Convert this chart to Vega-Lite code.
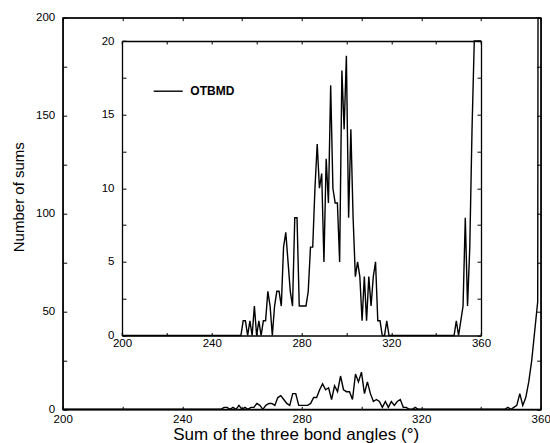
{
  "$schema": "https://vega.github.io/schema/vega-lite/v6.json",
  "width": 478,
  "height": 391.6,
  "autosize": {"type": "none"},
  "padding": {"left": 62.7, "top": 17.7, "right": 9.3, "bottom": 33.7},
  "background": "white",
  "config": {
    "view": {"stroke": "black", "strokeWidth": 1.3},
    "axis": {
      "grid": false,
      "domainColor": "black",
      "domainWidth": 1.3,
      "tickColor": "black",
      "tickWidth": 1,
      "labelColor": "black",
      "labelFont": "Liberation Sans",
      "labelFontSize": 11.5,
      "labelFlush": false,
      "labelOverlap": false,
      "titleColor": "black",
      "titleFont": "Liberation Sans",
      "titleFontWeight": "normal"
    }
  },
  "data": {
    "values": [
      {"angle": 200, "count": 0}, {"angle": 201, "count": 0}, {"angle": 202, "count": 0}, {"angle": 203, "count": 0}, {"angle": 204, "count": 0},
      {"angle": 205, "count": 0}, {"angle": 206, "count": 0}, {"angle": 207, "count": 0}, {"angle": 208, "count": 0}, {"angle": 209, "count": 0},
      {"angle": 210, "count": 0}, {"angle": 211, "count": 0}, {"angle": 212, "count": 0}, {"angle": 213, "count": 0}, {"angle": 214, "count": 0},
      {"angle": 215, "count": 0}, {"angle": 216, "count": 0}, {"angle": 217, "count": 0}, {"angle": 218, "count": 0}, {"angle": 219, "count": 0},
      {"angle": 220, "count": 0}, {"angle": 221, "count": 0}, {"angle": 222, "count": 0}, {"angle": 223, "count": 0}, {"angle": 224, "count": 0},
      {"angle": 225, "count": 0}, {"angle": 226, "count": 0}, {"angle": 227, "count": 0}, {"angle": 228, "count": 0}, {"angle": 229, "count": 0},
      {"angle": 230, "count": 0}, {"angle": 231, "count": 0}, {"angle": 232, "count": 0}, {"angle": 233, "count": 0}, {"angle": 234, "count": 0},
      {"angle": 235, "count": 0}, {"angle": 236, "count": 0}, {"angle": 237, "count": 0}, {"angle": 238, "count": 0}, {"angle": 239, "count": 0},
      {"angle": 240, "count": 0}, {"angle": 241, "count": 0}, {"angle": 242, "count": 0}, {"angle": 243, "count": 0}, {"angle": 244, "count": 0},
      {"angle": 245, "count": 0}, {"angle": 246, "count": 0}, {"angle": 247, "count": 0}, {"angle": 248, "count": 0}, {"angle": 249, "count": 0},
      {"angle": 250, "count": 0}, {"angle": 251, "count": 0}, {"angle": 252, "count": 0}, {"angle": 253, "count": 0}, {"angle": 254, "count": 1},
      {"angle": 255, "count": 1}, {"angle": 256, "count": 0}, {"angle": 257, "count": 1}, {"angle": 258, "count": 0}, {"angle": 259, "count": 2},
      {"angle": 260, "count": 0}, {"angle": 261, "count": 1}, {"angle": 262, "count": 0}, {"angle": 263, "count": 1}, {"angle": 264, "count": 1},
      {"angle": 265, "count": 3}, {"angle": 266, "count": 2}, {"angle": 267, "count": 0}, {"angle": 268, "count": 2}, {"angle": 269, "count": 3},
      {"angle": 270, "count": 3}, {"angle": 271, "count": 2}, {"angle": 272, "count": 6}, {"angle": 273, "count": 7}, {"angle": 274, "count": 5},
      {"angle": 275, "count": 3}, {"angle": 276, "count": 2}, {"angle": 277, "count": 8}, {"angle": 278, "count": 8}, {"angle": 279, "count": 2},
      {"angle": 280, "count": 2}, {"angle": 281, "count": 2}, {"angle": 282, "count": 2}, {"angle": 283, "count": 3}, {"angle": 284, "count": 6},
      {"angle": 285, "count": 6}, {"angle": 286, "count": 10}, {"angle": 287, "count": 13}, {"angle": 288, "count": 10}, {"angle": 289, "count": 11},
      {"angle": 290, "count": 5}, {"angle": 291, "count": 12}, {"angle": 292, "count": 9}, {"angle": 293, "count": 17}, {"angle": 294, "count": 10},
      {"angle": 295, "count": 9}, {"angle": 296, "count": 9}, {"angle": 297, "count": 5}, {"angle": 298, "count": 18}, {"angle": 299, "count": 14},
      {"angle": 300, "count": 19}, {"angle": 301, "count": 8}, {"angle": 302, "count": 14}, {"angle": 303, "count": 8}, {"angle": 304, "count": 4},
      {"angle": 305, "count": 5}, {"angle": 306, "count": 4}, {"angle": 307, "count": 1}, {"angle": 308, "count": 4}, {"angle": 309, "count": 1},
      {"angle": 310, "count": 4}, {"angle": 311, "count": 2}, {"angle": 312, "count": 4}, {"angle": 313, "count": 5}, {"angle": 314, "count": 1},
      {"angle": 315, "count": 1}, {"angle": 316, "count": 0}, {"angle": 317, "count": 0}, {"angle": 318, "count": 1}, {"angle": 319, "count": 0},
      {"angle": 320, "count": 0}, {"angle": 321, "count": 0}, {"angle": 322, "count": 0}, {"angle": 323, "count": 0}, {"angle": 324, "count": 0},
      {"angle": 325, "count": 0}, {"angle": 326, "count": 0}, {"angle": 327, "count": 0}, {"angle": 328, "count": 0}, {"angle": 329, "count": 0},
      {"angle": 330, "count": 0}, {"angle": 331, "count": 0}, {"angle": 332, "count": 0}, {"angle": 333, "count": 0}, {"angle": 334, "count": 0},
      {"angle": 335, "count": 0}, {"angle": 336, "count": 0}, {"angle": 337, "count": 0}, {"angle": 338, "count": 0}, {"angle": 339, "count": 0},
      {"angle": 340, "count": 0}, {"angle": 341, "count": 0}, {"angle": 342, "count": 0}, {"angle": 343, "count": 0}, {"angle": 344, "count": 0},
      {"angle": 345, "count": 0}, {"angle": 346, "count": 0}, {"angle": 347, "count": 0}, {"angle": 348, "count": 0}, {"angle": 349, "count": 1},
      {"angle": 350, "count": 0}, {"angle": 351, "count": 1}, {"angle": 352, "count": 2}, {"angle": 353, "count": 8}, {"angle": 354, "count": 2},
      {"angle": 355, "count": 6}, {"angle": 356, "count": 14}, {"angle": 357, "count": 25}, {"angle": 358, "count": 40}, {"angle": 359, "count": 55},
      {"angle": 360, "count": 1500}
    ]
  },
  "resolve": {
    "scale": {"x": "independent", "y": "independent", "color": "independent"},
    "axis": {"x": "independent", "y": "independent"}
  },
  "layer": [
    {
      "mark": {"type": "line", "color": "black", "strokeWidth": 1.4, "clip": true},
      "encoding": {
        "x": {
          "field": "angle", "type": "quantitative",
          "scale": {"domain": [200, 360], "nice": false, "zero": false},
          "axis": {
            "orient": "bottom",
            "values": [200, 220, 240, 260, 280, 300, 320, 340, 360],
            "labelExpr": "datum.value % 40 === 0 ? '' + datum.value : ''",
            "tickSize": -3,
            "labelPadding": 7,
            "title": "Sum of the three bond angles (°)",
            "titleFontSize": 17,
            "titleBaseline": "alphabetic",
            "titleX": 233,
            "titleY": 30,
            "titleAlign": "center"
          }
        },
        "y": {
          "field": "count", "type": "quantitative",
          "scale": {"domain": [0, 200], "nice": false},
          "axis": {
            "orient": "left",
            "values": [0, 25, 50, 75, 100, 125, 150, 175, 200],
            "labelExpr": "datum.value % 50 === 0 ? '' + datum.value : ''",
            "tickSize": -4,
            "labelPadding": 12,
            "labelBaseline": "middle",
            "title": "Number of sums",
            "titleFontSize": 15,
            "titleAngle": -90,
            "titleBaseline": "middle",
            "titleAlign": "center",
            "titleX": -43.8,
            "titleY": 179
          }
        }
      }
    },
    {
      "mark": {"type": "line", "strokeOpacity": 0},
      "encoding": {
        "x": {
          "field": "angle", "type": "quantitative",
          "scale": {"domain": [200, 360], "nice": false, "zero": false},
          "axis": {
            "orient": "top",
            "values": [200, 220, 240, 260, 280, 300, 320, 340, 360],
            "tickSize": -3,
            "labels": false,
            "title": null
          }
        },
        "y": {
          "field": "count", "type": "quantitative",
          "scale": {"domain": [0, 200], "nice": false},
          "axis": {
            "orient": "right",
            "values": [0, 25, 50, 75, 100, 125, 150, 175, 200],
            "tickSize": -4,
            "labels": false,
            "title": null
          }
        }
      }
    },
    {
      "mark": {"type": "line", "strokeWidth": 1.4},
      "encoding": {
        "x": {
          "field": "angle", "type": "quantitative",
          "scale": {"domain": [200, 360], "range": [59.3, 418.3], "nice": false, "zero": false},
          "axis": {
            "orient": "bottom",
            "offset": -73.8,
            "values": [200, 220, 240, 260, 280, 300, 320, 340, 360],
            "labelExpr": "datum.value % 40 === 0 ? '' + datum.value : ''",
            "tickSize": -3,
            "labelPadding": 5,
            "title": null
          }
        },
        "y": {
          "field": "count", "type": "quantitative",
          "scale": {"domain": [0, 20], "range": [317.8, 23.3], "nice": false, "clamp": true},
          "axis": {
            "orient": "left",
            "offset": -59.3,
            "values": [0, 2.5, 5, 7.5, 10, 12.5, 15, 17.5, 20],
            "labelExpr": "datum.value % 5 === 0 ? '' + datum.value : ''",
            "tickSize": -4,
            "labelPadding": 12,
            "labelBaseline": "middle",
            "title": null
          }
        },
        "color": {
          "datum": "OTBMD", "type": "nominal",
          "scale": {"range": ["black"]},
          "legend": {
            "orient": "none",
            "legendX": 90,
            "legendY": 58,
            "title": null,
            "padding": 0,
            "symbolType": "stroke",
            "symbolSize": 841,
            "symbolStrokeWidth": 1.4,
            "symbolStrokeColor": "black",
            "labelFont": "Liberation Sans",
            "labelFontSize": 12,
            "labelFontWeight": "bold",
            "labelColor": "black",
            "labelOffset": 6.6
          }
        }
      }
    },
    {
      "mark": {"type": "line", "strokeOpacity": 0},
      "encoding": {
        "x": {
          "field": "angle", "type": "quantitative",
          "scale": {"domain": [200, 360], "range": [59.3, 418.3], "nice": false, "zero": false},
          "axis": {
            "orient": "top",
            "offset": -23.3,
            "values": [200, 220, 240, 260, 280, 300, 320, 340, 360],
            "tickSize": -3,
            "labels": false,
            "title": null
          }
        },
        "y": {
          "field": "count", "type": "quantitative",
          "scale": {"domain": [0, 20], "range": [317.8, 23.3], "nice": false, "clamp": true},
          "axis": {
            "orient": "right",
            "offset": -59.7,
            "values": [0, 2.5, 5, 7.5, 10, 12.5, 15, 17.5, 20],
            "tickSize": -4,
            "labels": false,
            "title": null
          }
        }
      }
    }
  ]
}
